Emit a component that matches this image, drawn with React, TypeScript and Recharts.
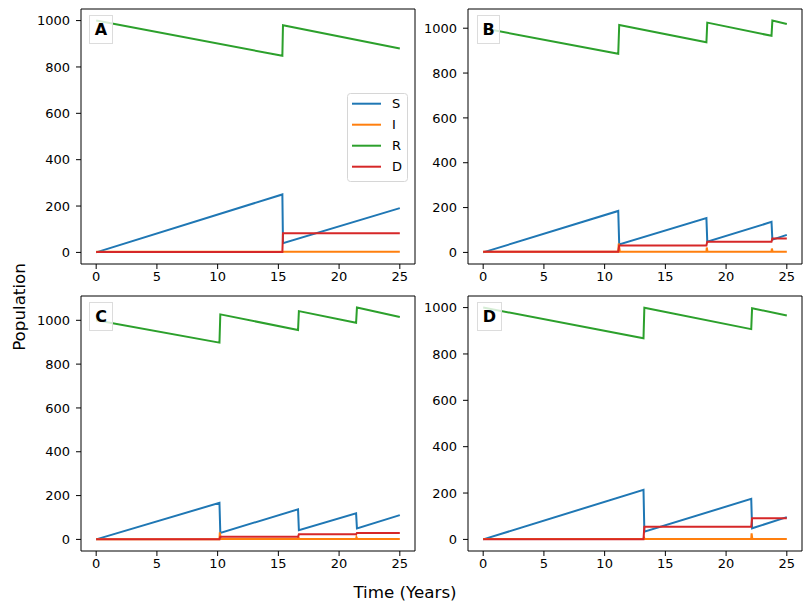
import React from 'react';
import { LineChart, Line, XAxis, YAxis, ReferenceArea, Legend } from 'recharts';

const COLORS: Record<string, string> = { S: '#1f77b4', I: '#ff7f0e', R: '#2ca02c', D: '#d62728' };
const SERIES = ['S', 'I', 'R', 'D'];
const X_TICKS = [0, 5, 10, 15, 20, 25];
const Y_TICKS = [0, 200, 400, 600, 800, 1000];
const X_DOMAIN: [number, number] = [-1.25, 26.25];

// Panel A
const tA = [0, 15.33, 15.38, 25];
const sA = [0, 250, 40, 191];
const rA = [1000, 848, 980, 880];
const dA = [2, 2, 83, 83];
const tIA = [0, 25];
const iA = [3, 3];

// Panel B
const tB = [0, 11.12, 11.2, 18.38, 18.45, 23.74, 23.81, 25];
const sB = [0, 185, 36, 153, 48, 136, 57, 78];
const rB = [1000, 886, 1014, 937, 1025, 966, 1034, 1019];
const dB = [3, 3, 31, 31, 48, 48, 62, 62];
const tIB = [0, 11.12, 11.16, 11.25, 18.38, 18.41, 18.47, 23.74, 23.77, 23.83, 25];
const iB = [3, 3, 40, 3, 3, 22, 3, 3, 17, 3, 3];

// Panel C
const tC = [0, 10.15, 10.22, 16.62, 16.69, 21.4, 21.47, 25];
const sC = [0, 167, 30, 137, 42, 119, 50, 111];
const rC = [1000, 898, 1027, 956, 1042, 989, 1058, 1015];
const dC = [1, 1, 12, 12, 23, 23, 29, 29];
const tIC = [0, 10.15, 10.18, 10.26, 16.62, 16.65, 16.71, 21.4, 21.43, 21.49, 25];
const iC = [1, 1, 32, 2, 2, 12, 2, 2, 10, 2, 2];

// Panel D
const tD = [0, 13.2, 13.27, 22.07, 22.14, 25];
const sD = [0, 214, 33, 175, 48, 96];
const rD = [1000, 868, 999, 907, 997, 966];
const dD = [1, 1, 55, 55, 91, 91];
const tID = [0, 13.2, 13.24, 13.3, 22.07, 22.1, 22.16, 25];
const iD = [2, 2, 8, 2, 2, 26, 2, 2];

const pts = (t: number[], v: number[]) => t.map((x, i) => ({ t: x, v: v[i] }));

const FONT = 'DejaVu Sans, sans-serif';
const TICK_FS = 13;

type PanelProps = {
  label: string;
  left: number;
  top: number;
  width: number;
  height: number;
  mTop: number;
  mRight: number;
  yW: number;
  xH: number;
  yDomain: [number, number];
  series: Record<string, { t: number; v: number }[]>;
  legend?: boolean;
  labelBox: { left: number; top: number; width: number; height: number };
};

const renderLegend = (props: any) => {
  const payload = [...(props.payload || [])].sort(
    (a: any, b: any) => SERIES.indexOf(a.value) - SERIES.indexOf(b.value)
  );
  return (
    <svg width={61} height={89} style={{ display: 'block' }}>
      <rect x={0.5} y={0.5} width={60} height={88} rx={3} fill="rgba(255,255,255,0.8)" stroke="#d6d6d6" />
      {payload.map((p: any, i: number) => (
        <g key={p.value}>
          <line x1={5} x2={34} y1={10.7 + 21 * i} y2={10.7 + 21 * i} stroke={p.color} strokeWidth={2} />
          <text x={45} y={15.4 + 21 * i} fontSize={13} fontFamily={FONT} fill="#000">{p.value}</text>
        </g>
      ))}
    </svg>
  );
};

const Panel = (p: PanelProps) => (
  <div style={{ position: 'absolute', left: p.left, top: p.top, width: p.width, height: p.height }}>
    <LineChart width={p.width} height={p.height} margin={{ top: p.mTop, right: p.mRight, left: 0, bottom: 0 }}>
      <XAxis
        type="number"
        dataKey="t"
        domain={X_DOMAIN}
        ticks={X_TICKS}
        allowDataOverflow
        height={p.xH}
        axisLine={false}
        tickSize={5}
        tickMargin={3}
        tickLine={{ stroke: '#000' }}
        tick={{ fill: '#000', fontSize: TICK_FS, fontFamily: FONT }}
      />
      <YAxis
        type="number"
        domain={p.yDomain}
        ticks={Y_TICKS}
        allowDataOverflow
        width={p.yW}
        axisLine={false}
        tickSize={5}
        tickMargin={6}
        tickLine={{ stroke: '#000' }}
        tick={{ fill: '#000', fontSize: TICK_FS, fontFamily: FONT }}
      />
      {SERIES.map((k) => (
        <Line
          key={k}
          data={p.series[k]}
          dataKey="v"
          name={k}
          type="linear"
          stroke={COLORS[k]}
          strokeWidth={2}
          dot={false}
          activeDot={false}
          isAnimationActive={false}
        />
      ))}
      <ReferenceArea
        x1={X_DOMAIN[0]}
        x2={X_DOMAIN[1]}
        y1={p.yDomain[0]}
        y2={p.yDomain[1]}
        fill="none"
        fillOpacity={0}
        stroke="#000"
        strokeWidth={1}
        ifOverflow="visible"
      />
      {p.legend && (
        <Legend
          layout="vertical"
          align="center"
          verticalAlign="middle"
          content={renderLegend}
          wrapperStyle={{ left: 347, top: 93, width: 61, height: 89 }}
        />
      )}
    </LineChart>
    <div
      style={{
        position: 'absolute',
        left: p.labelBox.left,
        top: p.labelBox.top,
        width: p.labelBox.width,
        height: p.labelBox.height,
        boxSizing: 'border-box',
        border: '1px solid #dcdcdc',
        background: 'rgba(255,255,255,0.8)',
        fontFamily: FONT,
        fontWeight: 'bold',
        fontSize: 16,
        display: 'flex',
        alignItems: 'center',
        justifyContent: 'center',
        color: '#000',
      }}
    >
      {p.label}
    </div>
  </div>
);

export default function App() {
  const seriesA = { S: pts(tA, sA), I: pts(tIA, iA), R: pts(tA, rA), D: pts(tA, dA) };
  const seriesB = { S: pts(tB, sB), I: pts(tIB, iB), R: pts(tB, rB), D: pts(tB, dB) };
  const seriesC = { S: pts(tC, sC), I: pts(tIC, iC), R: pts(tC, rC), D: pts(tC, dC) };
  const seriesD = { S: pts(tD, sD), I: pts(tID, iD), R: pts(tD, rD), D: pts(tD, dD) };
  return (
    <div style={{ position: 'absolute', left: 0, top: 0, width: 811, height: 611, background: '#fff', fontFamily: FONT }}>
      <Panel label="A" left={0} top={0} width={420} height={290} mTop={9} mRight={5} yW={81} xH={26}
        yDomain={[-50, 1050]} series={seriesA} legend labelBox={{ left: 89, top: 15, width: 24, height: 29 }} />
      <Panel label="B" left={400} top={0} width={411} height={290} mTop={9} mRight={9} yW={68} xH={26}
        yDomain={[-51.7, 1085.7]} series={seriesB} labelBox={{ left: 77, top: 15, width: 23, height: 29 }} />
      <Panel label="C" left={0} top={290} width={420} height={290} mTop={6} mRight={5} yW={81} xH={29}
        yDomain={[-52.9, 1110.9]} series={seriesC} labelBox={{ left: 89, top: 12, width: 24, height: 29 }} />
      <Panel label="D" left={400} top={290} width={411} height={290} mTop={6} mRight={9} yW={68} xH={29}
        yDomain={[-50, 1050]} series={seriesD} labelBox={{ left: 77, top: 12, width: 25, height: 29 }} />
      <div style={{ position: 'absolute', left: 19, top: 307, transform: 'translate(-50%, -50%) rotate(-90deg)', fontSize: 16.7, fontFamily: FONT, whiteSpace: 'nowrap', color: '#000' }}>
        Population
      </div>
      <div style={{ position: 'absolute', left: 405, top: 592, transform: 'translate(-50%, -50%)', fontSize: 16.7, fontFamily: FONT, whiteSpace: 'nowrap', color: '#000' }}>
        Time (Years)
      </div>
    </div>
  );
}
